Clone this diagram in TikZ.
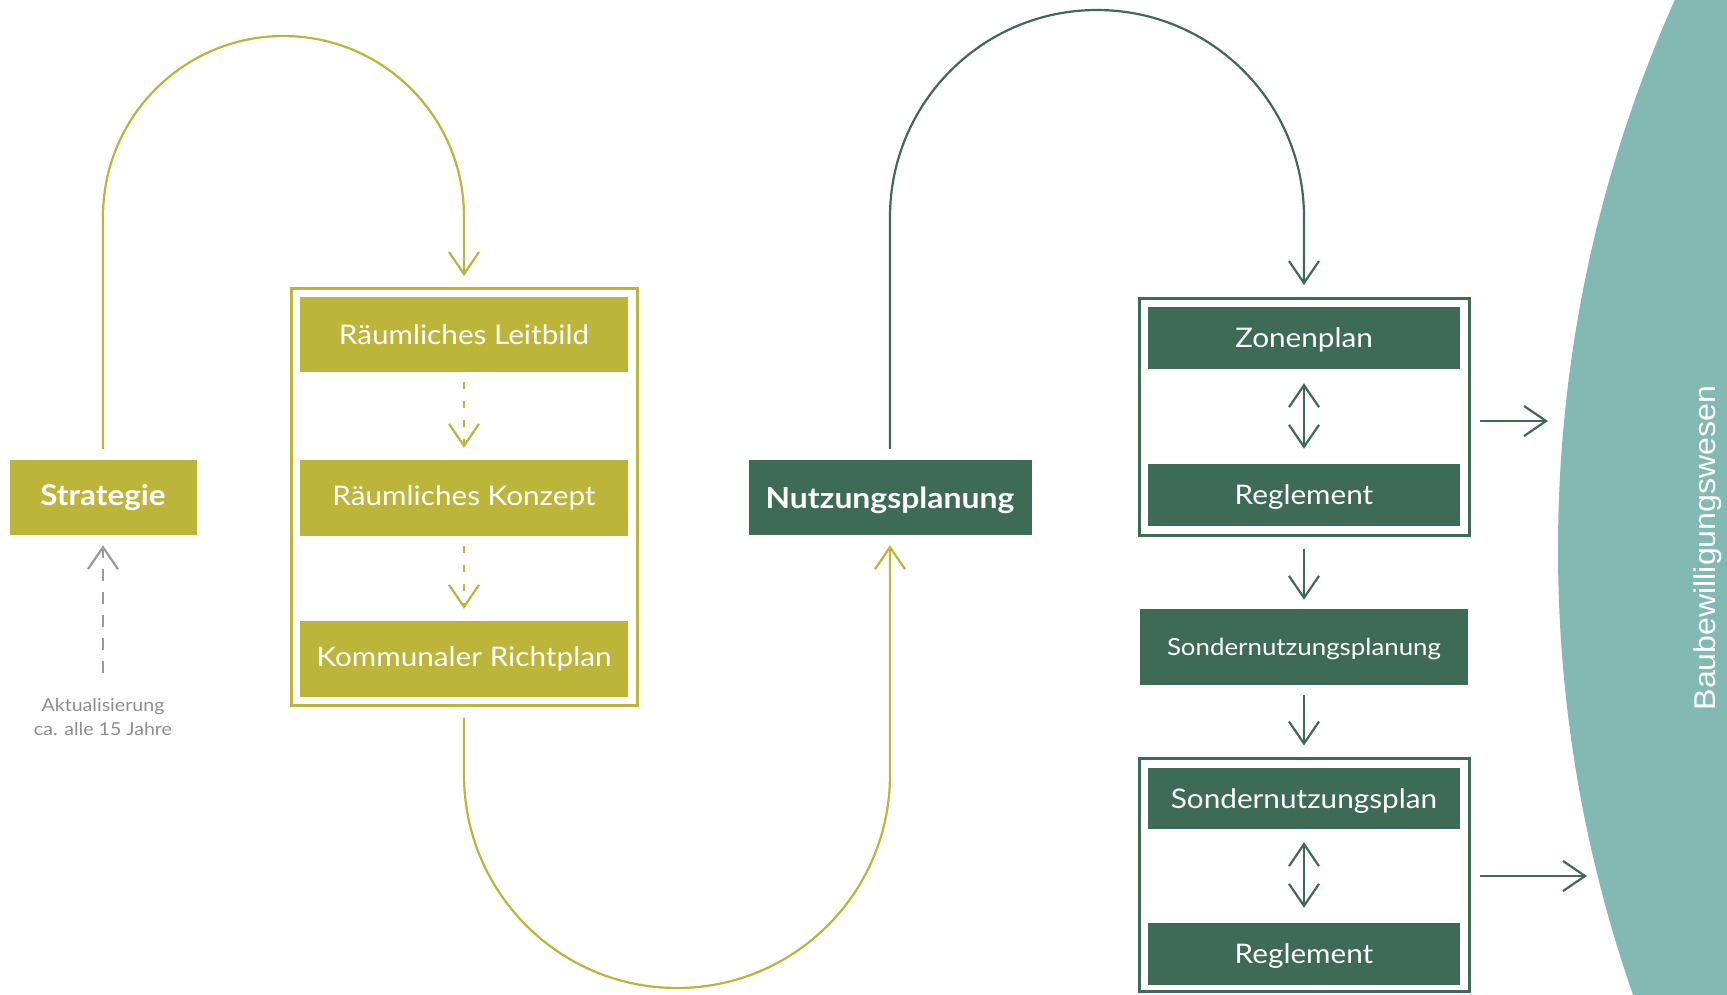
\documentclass[tikz,border=0pt]{standalone}
\usepackage{fontspec}
\setmainfont{Lato}[FakeStretch=1.1]
\newfontfamily\arialf{Liberation Sans}[FakeStretch=1.07]
\usetikzlibrary{arrows.meta}
\definecolor{olivec}{HTML}{BDB53A}
\definecolor{greenc}{HTML}{3D6B55}
\definecolor{tealc}{HTML}{82B9B3}
\definecolor{grayc}{HTML}{9A9A9A}
\definecolor{graytxt}{HTML}{8E8E8E}
\begin{document}
\begin{tikzpicture}[x=1pt,y=-1pt,
  tipv/.style={-{Straight Barb[length=22pt,width=30pt]}},
  tipvv/.style={{Straight Barb[length=22pt,width=30pt]}-{Straight Barb[length=22pt,width=30pt]}},
  oline/.style={draw=olivec,line width=2.2pt},
  gline/.style={draw=greenc,line width=2.2pt},
  obox/.style={rectangle,fill=olivec,text=white,inner sep=0pt,font=\fontsize{27}{32}\selectfont},
  gbox/.style={rectangle,fill=greenc,text=white,inner sep=0pt,text depth=0pt,font=\fontsize{27}{32}\selectfont},
  oframe/.style={rectangle,draw=olivec,line width=3pt,inner sep=0pt},
  gframe/.style={rectangle,draw=greenc,line width=3pt,inner sep=0pt},
]
\useasboundingbox (0,0) rectangle (1727,994);
\fill[white] (0,0) rectangle (1727,994);
% teal area
\begin{scope}
\clip (0,0) rectangle (1727,994);
\fill[tealc] (2908,550) circle[radius=1350];
\end{scope}
\node[rotate=90,text=white,inner sep=0pt,font=\arialf\fontsize{30}{36}\selectfont] (bw) at (1708,548) {Baubewilligungswesen};

% left column
\node[obox,minimum width=187pt,minimum height=75pt,font=\bfseries\fontsize{28.6}{34}\selectfont] (strat) at (103,497.5) {Strategie};
\node[oframe,minimum width=346pt,minimum height=417pt] (frameL) at (464,497) {};
\node[obox,minimum width=328pt,minimum height=75pt] (leit) at (464,334.5) {Räumliches Leitbild};
\node[obox,minimum width=328pt,minimum height=76pt] (konz) at (464,498) {Räumliches Konzept};
\node[obox,minimum width=328pt,minimum height=76pt] (richt) at (464,659) {Kommunaler Richtplan};

\node[gbox,minimum width=283pt,minimum height=75pt,font=\bfseries\fontsize{29}{34}\selectfont] (nutz) at (890,497.5) {Nutzungsplanung};

% right column
\node[gframe,minimum width=330pt,minimum height=237pt] (frameR1) at (1304,417) {};
\node[gbox,minimum width=312pt,minimum height=62pt] (zone) at (1304,338) {Zonenplan};
\node[gbox,minimum width=312pt,minimum height=62pt] (reg1) at (1304,495) {Reglement};
\node[gbox,minimum width=328pt,minimum height=76pt,font=\fontsize{23.5}{28}\selectfont] (snp) at (1304,647) {Sondernutzungsplanung};
\node[gframe,minimum width=330pt,minimum height=233pt] (frameR2) at (1304,875) {};
\node[gbox,minimum width=312pt,minimum height=61pt] (snplan) at (1304,798.5) {Sondernutzungsplan};
\node[gbox,minimum width=312pt,minimum height=62pt] (reg2) at (1304,954) {Reglement};

% update note
\node[align=center,text=graytxt,font=\fontsize{17.8}{24}\selectfont] (akt) at (103,717) {Aktualisierung\\ca. alle 15 Jahre};
\coordinate (aktstart) at (103,673);
\draw[draw=grayc,line width=2.2pt,dash pattern=on 12pt off 11pt,tipv,shorten >=10pt] (aktstart) -- (strat.south);

% waypoints
\coordinate (a1) at (103,216.5);
\coordinate (b1) at (464,775);
\coordinate (c1) at (890,217);
\coordinate (ar1) at (1548,421);
\coordinate (ar2) at (1587,876);

% connectors
\draw[oline,tipv,shorten <=11pt,shorten >=11pt] (strat.north) -- (a1) arc[start angle=180,end angle=360,radius=180.5] -- (frameL.north);
\draw[oline,tipv,shorten <=10.5pt,shorten >=10pt] (frameL.south) -- (b1) arc[start angle=180,end angle=0,radius=213] -- (nutz.south);
\draw[gline,tipv,shorten <=11pt,shorten >=12pt] (nutz.north) -- (c1) arc[start angle=180,end angle=360,radius=207] -- (frameR1.north);

\draw[oline,dash pattern=on 7pt off 12pt,tipv,shorten <=10pt,shorten >=12pt] (leit.south) -- (konz.north);
\draw[oline,dash pattern=on 7pt off 12pt,tipv,shorten <=10pt,shorten >=12pt] (konz.south) -- (richt.north);

\draw[gline,tipvv,shorten <=14pt,shorten >=15pt] (zone.south) -- (reg1.north);
\draw[gline,tipvv,shorten <=13pt,shorten >=15pt] (snplan.south) -- (reg2.north);
\draw[gline,tipv,shorten <=11.5pt,shorten >=9pt] (frameR1.south) -- (snp.north);
\draw[gline,tipv,shorten <=10pt,shorten >=11.5pt] (snp.south) -- (frameR2.north);
\draw[gline,tipv,shorten <=9.5pt] (frameR1.east |- ar1) -- (ar1);
\draw[gline,tipv,shorten <=9.5pt] (frameR2.east |- ar2) -- (ar2);
\end{tikzpicture}
\end{document}
